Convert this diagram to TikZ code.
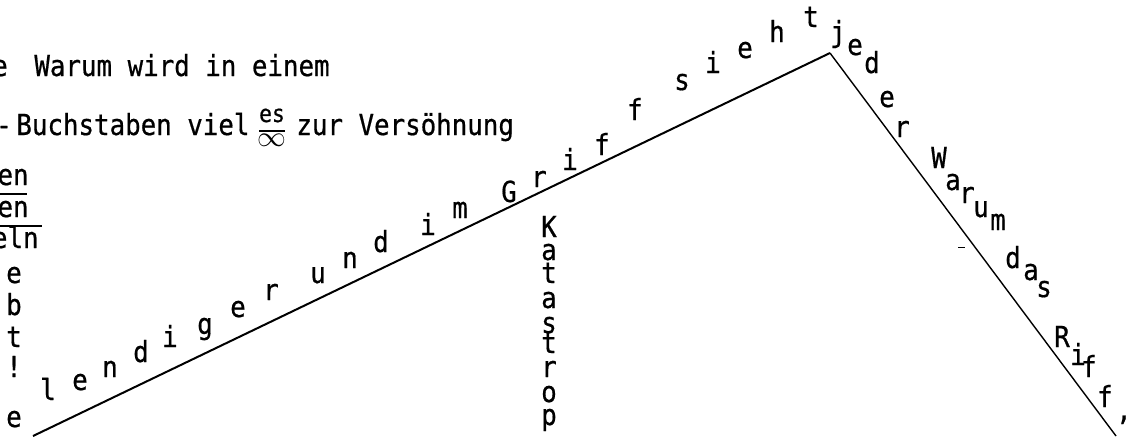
\documentclass[tikz,border=0pt]{standalone}
\usepackage{fontspec}
\setmonofont[FakeStretch=0.89, FakeBold=0.6]{DejaVu Sans Mono}
\tikzset{
  tw/.style={inner sep=0pt, anchor=base, font=\ttfamily\fontsize{14.5}{16}\selectfont},
  twsmall/.style={tw, font=\ttfamily\fontsize{12}{14}\selectfont},
  bar/.style={line width=0.7pt},
}
\begin{document}
\begin{tikzpicture}[x=0.5pt, y=-0.5pt, every node/.style={tw}]
\useasboundingbox[fill=white] (0,0) rectangle (1135,436);
% lines of text at the top
\node(E) at (0,76) {e};
\node(W) [anchor=base west] at (34,76) {Warum wird in einem};
\node(H) at (4,135) {-};
\node(B) [anchor=base west] at (16,135) {Buchstaben viel};
\node(es) [twsmall] at (272,122) {es};
\node(inf) at (272,146) {$\infty$};
\node(Z) [anchor=base west] at (296,135) {zur Versöhnung};
\coordinate(f1) at (259,131);
\coordinate(f2) at (285,131);
\draw[bar] (f1) -- (f2);
% cut fractions on the left
\node(N1) [anchor=base east] at (29,185) {en};
\node(N2) [anchor=base east] at (29,217) {en};
\node(N3) [anchor=base east] at (39,248) {eln};
\coordinate(u1) at (0,194);
\coordinate(u2) at (27,194);
\coordinate(v1) at (0,226);
\coordinate(v2) at (42,226);
\draw[bar] (u1) -- (u2);
\draw[bar] (v1) -- (v2);
\foreach \c/\x/\y [count=\i] in {e/14/283, b/14/315, t/14/347, !/14/377}
  \node(C\i) at (\x,\y) {\c};
% the two slopes
\coordinate(A) at (33,436);
\coordinate(P) at (830,53);
\coordinate(Q) at (1116,436);
\draw[line width=1pt] (A) -- (P);
\draw[line width=0.7pt] (P) -- (Q);
\coordinate(t1) at (958,247);
\coordinate(t2) at (965,247);
\draw[line width=0.5pt] (t1) -- (t2);
\foreach \c/\x/\y [count=\i] in {e/14/427, l/48/400, e/80/390, n/110/377, d/141/362,
    i/170/347, g/205/334, e/238/317, r/271/300, u/318/283, n/350/268, d/381/252,
    i/428/235, m/460/218, G/509/202, r/539/187, i/570/170, f/602/155, f/635/120,
    s/682/90, i/713/73, e/745/58, h/777/42, t/811/27}
  \node(L\i) at (\x,\y) {\c};
\foreach \c/\x/\y [count=\i] in {j/838/42, e/855/55, d/872/73, e/887/107, r/902/137,
    W/939/168, a/953/190, r/967/203, u/981/217, m/998/230, d/1013/268, a/1031/280,
    s/1044/297, R/1062/347, i/1078/365, f/1089/377, f/1105/407, {,}/1124/420}
  \node(R\i) at (\x,\y) {\c};
% falling word
\foreach \c/\y [count=\i] in {K/237, a/260, t/283, a/308, s/333, t/353, r/377, o/402, p/425}
  \node(K\i) at (549,\y) {\c};
\end{tikzpicture}
\end{document}
